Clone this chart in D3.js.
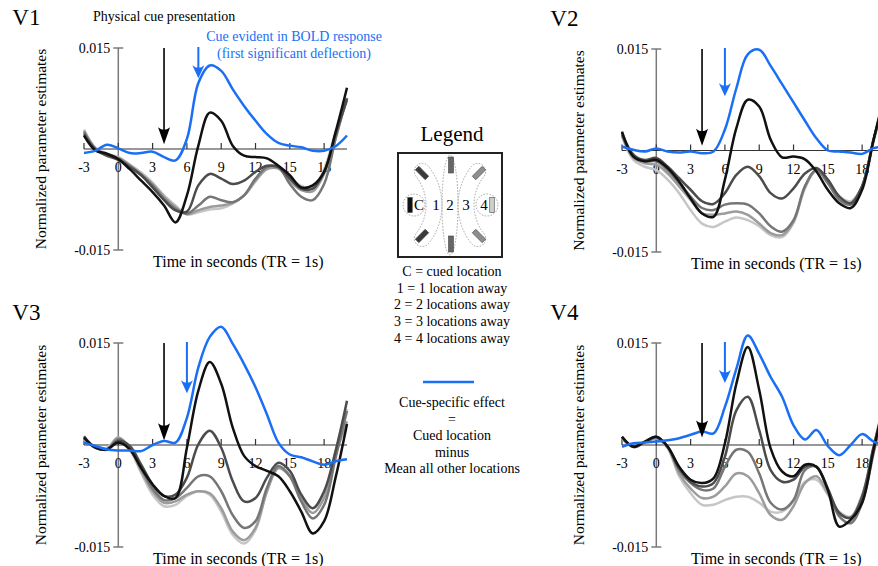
<!DOCTYPE html>
<html>
<head>
<meta charset="utf-8">
<script src="https://cdn.jsdelivr.net/npm/d3@7"></script>
<style>
  body { margin: 0; background: #fff; }
  svg { display: block; font-family: "Liberation Serif", "Times New Roman", serif; }
</style>
</head>
<body>
<svg id="chart" width="878" height="566"></svg>
<script>
// time in seconds (TR = 1s)
const times = [-3, -2, -1, 0, 1, 2, 3, 4, 5, 6, 7, 8, 9, 10, 11, 12, 13, 14, 15, 16, 17, 18, 19, 20];
const xTicks = [-3, 0, 3, 6, 9, 12, 15, 18];
const yTicks = [-15, 15];           // in units of 0.001
const tickLabelsY = ["-0.015", "0.015"];

// values are normalized parameter estimates x 1e-3
// V1
const v1Cue = [-0.6, -0.25, 0.64, 0.1, -0.6, -0.6, -0.4, -1.2, -1.7, 1.5, 9.8, 12.4, 11.6, 8.9, 6.4, 4.2, 2.2, 0.9, 0.5, 0.25, -0.25, -0.25, 0.4, 2.0];
const v1C   = [2.0, -0.2, -0.7, -1.5, -3.0, -4.7, -6.4, -8.4, -10.9, -6.9, 0.5, 5.4, 4.2, 0.5, -1.0, -1.2, -1.4, -2.5, -3.9, -5.7, -5.4, -3.4, 2.5, 9.1];
const v1L1  = [2.2, -0.1, -1.0, -1.6, -2.7, -3.9, -5.7, -7.6, -9.1, -9.3, -5.4, -3.7, -4.4, -5.2, -4.7, -3.4, -2.5, -2.7, -4.4, -5.9, -5.9, -3.4, 2.2, 7.4];
const v1L2  = [2.5, 0.0, -0.9, -1.4, -2.5, -3.8, -5.4, -7.4, -8.9, -9.6, -8.4, -7.1, -7.6, -7.9, -6.9, -4.4, -2.7, -2.7, -5.2, -7.1, -7.6, -5.2, 1.5, 7.6];
const v1L3  = [2.7, 0.1, -0.8, -1.3, -2.4, -3.7, -5.2, -7.1, -8.6, -9.7, -9.1, -8.6, -8.4, -8.0, -6.9, -4.7, -3.0, -2.9, -4.7, -6.1, -6.3, -3.7, 2.0, 7.4];
const v1L4  = [2.9, 0.2, -0.7, -1.2, -2.3, -3.5, -5.0, -6.9, -8.4, -9.7, -9.4, -9.0, -8.8, -8.1, -6.9, -4.8, -2.9, -2.7, -4.2, -5.5, -5.7, -3.0, 2.5, 7.1];
// V2
const v2Cue = [0.6, 0.1, -0.15, 0.3, -0.15, -0.3, -0.15, -0.4, -0.15, 3.1, 9.2, 14.2, 14.9, 12.5, 9.8, 7.1, 4.4, 1.8, 0.0, -0.15, -0.3, -0.5, 0.35, 0.6];
const v2C   = [2.8, -0.9, -1.6, -1.4, -2.6, -4.6, -7.1, -9.3, -9.8, -4.3, 3.3, 7.5, 6.5, 1.6, -1.0, -0.9, -1.3, -3.1, -5.8, -7.8, -8.5, -5.8, 1.6, 8.5];
const v2L1  = [2.6, -0.6, -1.4, -1.1, -2.4, -4.1, -5.8, -7.5, -7.9, -6.3, -3.6, -2.4, -3.8, -6.3, -7.1, -5.6, -3.4, -2.6, -4.3, -6.8, -7.8, -5.3, 1.6, 8.0];
const v2L2  = [2.3, -0.9, -1.6, -1.6, -2.9, -4.8, -6.8, -8.5, -8.8, -8.0, -7.8, -8.0, -9.3, -11.2, -12.0, -10.3, -5.3, -2.9, -4.8, -7.3, -8.0, -5.3, 1.6, 8.0];
const v2L3  = [2.3, -1.1, -1.9, -2.1, -3.4, -5.3, -7.3, -9.3, -9.5, -9.3, -9.0, -9.5, -10.8, -12.2, -12.5, -10.5, -5.3, -2.9, -4.8, -7.1, -7.8, -5.3, 1.6, 8.0];
const v2L4  = [2.1, -1.4, -2.4, -2.9, -4.3, -6.3, -8.8, -10.8, -11.3, -10.5, -9.9, -10.3, -11.2, -12.5, -12.8, -10.7, -5.6, -3.0, -4.6, -6.8, -7.5, -5.3, 1.3, 7.7];
// V3
const v3Cue = [0.35, -0.15, -0.65, -0.8, -0.8, -0.9, 0.0, 0.6, 0.35, 4.0, 11.4, 15.9, 17.4, 14.9, 11.9, 8.5, 4.5, 0.35, -1.4, -1.8, -2.4, -2.9, -2.4, -2.1];
const v3C   = [1.1, -0.4, -0.65, 0.35, -0.65, -3.4, -5.8, -7.5, -7.8, -0.4, 8.0, 12.2, 9.0, 2.6, -1.6, -3.1, -3.8, -4.6, -6.8, -9.8, -13.0, -11.2, -4.8, 3.1];
const v3L1  = [1.3, -0.4, -0.65, 0.6, -0.15, -2.9, -5.8, -7.5, -7.3, -4.8, 0.1, 2.1, -0.4, -5.3, -8.3, -7.8, -4.8, -2.6, -3.8, -7.3, -9.3, -6.8, -0.9, 6.5];
const v3L2  = [1.0, -0.3, -0.7, 0.85, -0.4, -3.4, -6.4, -8.1, -7.8, -6.3, -4.6, -4.6, -6.8, -10.3, -12.2, -11.2, -6.3, -3.1, -4.6, -8.3, -10.8, -8.8, -1.9, 5.0];
const v3L3  = [0.9, -0.4, -0.6, 1.1, -0.4, -3.8, -6.8, -8.5, -8.3, -7.3, -6.8, -7.1, -9.3, -12.7, -14.0, -12.2, -6.8, -3.4, -4.6, -7.8, -10.0, -7.8, -1.4, 3.5];
const v3L4  = [0.8, -0.4, -0.4, 1.1, -0.65, -4.1, -7.3, -9.0, -8.8, -7.5, -6.8, -7.3, -9.8, -13.2, -14.5, -12.5, -6.8, -3.4, -4.4, -7.3, -9.3, -7.3, -0.9, 5.3];
// V4
const v4Cue = [-0.25, 0.25, 0.35, 0.5, 0.7, 1.0, 1.5, 2.0, 1.7, 5.6, 11.2, 16.1, 13.4, 10.0, 7.1, 2.9, 0.8, 2.2, -0.15, -1.5, 0.0, 1.6, 0.5, 0.0];
const v4C   = [1.2, -0.25, 0.5, 1.2, -0.25, -3.2, -5.1, -5.6, -4.9, 0.25, 9.0, 14.4, 8.1, -0.5, -3.9, -4.6, -2.9, -3.2, -6.6, -12.0, -11.0, -8.5, -0.7, 6.6];
const v4L1  = [1.2, -0.25, 0.5, 1.2, -0.25, -3.4, -5.4, -6.1, -5.6, -1.7, 5.1, 7.1, 2.2, -3.7, -5.4, -5.1, -3.2, -3.2, -6.4, -10.0, -10.7, -7.6, -0.25, 6.6];
const v4L2  = [1.1, -0.3, 0.4, 1.1, -0.3, -3.7, -5.6, -6.6, -6.4, -3.2, -0.7, -1.0, -4.2, -8.5, -9.5, -8.1, -3.7, -3.2, -6.6, -10.5, -11.5, -8.5, -1.2, 6.1];
const v4L3  = [1.0, -0.3, 0.4, 1.0, -0.4, -4.2, -6.4, -7.8, -7.6, -6.1, -4.2, -4.6, -7.1, -10.3, -11.0, -9.0, -5.6, -4.6, -7.1, -10.0, -10.7, -7.6, -0.5, 6.6];
const v4L4  = [1.0, -0.3, 0.4, 1.0, -0.5, -4.6, -7.1, -8.8, -8.8, -8.1, -7.6, -7.6, -8.5, -9.8, -9.8, -8.3, -5.4, -5.1, -7.3, -9.8, -10.5, -7.3, -0.25, 7.1];

// arrows: physical cue onset and first significant deflection (s), arrow tips (x 1e-3)
const panelNames  = ["V1", "V2", "V3", "V4"];
const cueTimes    = [4, 4, 4, 4];
const cueTips     = [0.7, 0.7, 0.7, 1.1];
const onsetTimes  = [7, 6, 6, 6];
const onsetTips   = [10.5, 8.0, 7.6, 9.1];

const seriesData = [
  [v1L4, v1L3, v1L2, v1L1, v1C, v1Cue],
  [v2L4, v2L3, v2L2, v2L1, v2C, v2Cue],
  [v3L4, v3L3, v3L2, v3L1, v3C, v3Cue],
  [v4L4, v4L3, v4L2, v4L1, v4C, v4Cue]
];
const seriesColors = ["#c6c6c6", "#9c9c9c", "#767676", "#4c4c4c", "#111111", "#1a6ff5"];
const blue = "#1a6ff5";

// panel frames in pixels
const frames = [
  { x0: 84,  x1: 347, yTop: 48,  yBot: 250 },
  { x0: 622, x1: 885, yTop: 49,  yBot: 252 },
  { x0: 84,  x1: 347, yTop: 343, yBot: 547 },
  { x0: 622, x1: 885, yTop: 343, yBot: 547 }
];

const svg = d3.select("#chart");

function arrow(g, x, yFrom, yTo, color, width, headLen) {
  g.append("line")
    .attr("x1", x).attr("x2", x)
    .attr("y1", yFrom).attr("y2", yTo - headLen + 3)
    .attr("stroke", color).attr("stroke-width", width);
  g.append("path")
    .attr("d", `M${x},${yTo} L${x - 6},${yTo - headLen} Q${x},${yTo - headLen + 5} ${x + 6},${yTo - headLen} Z`)
    .attr("fill", color);
}

panelNames.forEach((name, i) => {
  const f = frames[i];
  const x = d3.scaleLinear().domain([-3, 20]).range([f.x0, f.x1]);
  const y = d3.scaleLinear().domain([-15, 15]).range([f.yBot, f.yTop]);
  const g = svg.append("g");
  const ax = x(0), ay = y(0);

  // panel label
  g.append("text").attr("x", ax - 106).attr("y", y(15) - 23)
    .style("font-size", "23px").text(name);

  // y axis
  g.append("line").attr("x1", ax).attr("x2", ax).attr("y1", y(15)).attr("y2", y(-15))
    .attr("stroke", "#7a7a7a").attr("stroke-width", 1.5);
  yTicks.forEach((t, k) => {
    g.append("line").attr("x1", ax - 5).attr("x2", ax + 5).attr("y1", y(t)).attr("y2", y(t))
      .attr("stroke", "#7a7a7a").attr("stroke-width", 1.5);
    g.append("text").attr("x", ax - 8).attr("y", y(t) + 5)
      .attr("text-anchor", "end").style("font-size", "14px").text(tickLabelsY[k]);
  });
  g.append("text")
    .attr("transform", `translate(${ax - 72},${(y(15) + y(-15)) / 2}) rotate(-90)`)
    .attr("text-anchor", "middle").style("font-size", "15.5px")
    .text("Normalized parameter estimates");

  // x axis
  g.append("line").attr("x1", x(-3)).attr("x2", x(20)).attr("y1", ay).attr("y2", ay)
    .attr("stroke", "#333").attr("stroke-width", 1.2);
  xTicks.forEach(t => {
    g.append("line").attr("x1", x(t)).attr("x2", x(t)).attr("y1", ay - 6).attr("y2", ay)
      .attr("stroke", "#333").attr("stroke-width", 1.2);
    g.append("text").attr("x", x(t)).attr("y", ay + 23)
      .attr("text-anchor", "middle").style("font-size", "14px").text(t);
  });
  g.append("text").attr("x", x(0) + 120).attr("y", y(-15) + 17)
    .attr("text-anchor", "middle").style("font-size", "16px")
    .text("Time in seconds (TR = 1s)");

  // curves
  const line = d3.line()
    .x((d, k) => x(times[k]))
    .y(d => y(d))
    .curve(d3.curveCatmullRom.alpha(0.5));
  seriesData[i].forEach((vals, s) => {
    g.append("path").datum(vals)
      .attr("d", line)
      .attr("fill", "none")
      .attr("stroke", seriesColors[s])
      .attr("stroke-width", 2.5)
      .attr("stroke-linejoin", "round");
  });

  // arrows
  arrow(g, x(cueTimes[i]), y(15), y(cueTips[i]), "#000", 1.6, 17);
  arrow(g, x(onsetTimes[i]), y(15) - 1, y(onsetTips[i]), blue, 2, 13);

  if (i === 0) {
    g.append("text").attr("x", 93).attr("y", 21).style("font-size", "14px")
      .text("Physical cue presentation");
    g.append("text").attr("x", 294).attr("y", 41).attr("text-anchor", "middle")
      .style("font-size", "14px").attr("fill", blue).text("Cue evident in BOLD response");
    g.append("text").attr("x", 294).attr("y", 58).attr("text-anchor", "middle")
      .style("font-size", "14px").attr("fill", blue).text("(first significant deflection)");
  }
});

// legend
const lg = svg.append("g");
const cx = 450, cy = 205;
lg.append("text").attr("x", 452).attr("y", 141).attr("text-anchor", "middle")
  .style("font-size", "21px").text("Legend");
lg.append("rect").attr("x", 398).attr("y", 153).attr("width", 104).attr("height", 104)
  .attr("fill", "none").attr("stroke", "#222").attr("stroke-width", 2);

const dotted = sel => sel.attr("fill", "none").attr("stroke", "#999")
  .attr("stroke-width", 0.9).attr("stroke-dasharray", "1.5,1.5");
lg.append("circle").attr("cx", 414).attr("cy", cy).attr("r", 11).call(dotted);
lg.append("circle").attr("cx", 487).attr("cy", cy).attr("r", 11).call(dotted);
lg.append("ellipse").attr("cx", cx).attr("cy", cy).attr("rx", 8).attr("ry", 50).call(dotted);
const band = d3.arc().innerRadius(46).outerRadius(62).cornerRadius(8);
lg.append("path").attr("transform", `translate(${cx - 70},${cy})`)
  .attr("d", band({ startAngle: Math.PI / 2 - 0.82, endAngle: Math.PI / 2 + 0.82 })).call(dotted);
lg.append("path").attr("transform", `translate(${cx + 70},${cy})`)
  .attr("d", band({ startAngle: 3 * Math.PI / 2 - 0.82, endAngle: 3 * Math.PI / 2 + 0.82 })).call(dotted);

const bars = [
  { x: 410, y: 205, r: 0,   fill: "#111", w: 4.5, h: 15 },
  { x: 422, y: 173, r: -45, fill: "#3a3a3a", w: 5, h: 14 },
  { x: 422, y: 236, r: 45,  fill: "#3a3a3a", w: 5, h: 14 },
  { x: 451, y: 165, r: 0,   fill: "#666", w: 5, h: 16 },
  { x: 451, y: 244, r: 0,   fill: "#666", w: 5, h: 16 },
  { x: 479, y: 173, r: 45,  fill: "#8e8e8e", w: 5, h: 14 },
  { x: 479, y: 236, r: -45, fill: "#8e8e8e", w: 5, h: 14 },
  { x: 492, y: 205, r: 0,   fill: "#cfcfcf", w: 4.5, h: 15 }
];
bars.forEach(b => {
  lg.append("rect")
    .attr("x", -b.w / 2).attr("y", -b.h / 2).attr("width", b.w).attr("height", b.h)
    .attr("transform", `translate(${b.x},${b.y}) rotate(${b.r})`)
    .attr("fill", b.fill).attr("stroke", "#444").attr("stroke-width", 0.6);
});
[["C", 419], ["1", 436], ["2", 450], ["3", 466], ["4", 484]].forEach(([t, px]) => {
  lg.append("text").attr("x", px).attr("y", 210).attr("text-anchor", "middle")
    .style("font-size", "15px").text(t);
});

const legendLines = ["C = cued location", "1 = 1 location away", "2 = 2 locations away",
  "3 = 3 locations away", "4 = 4 locations away"];
legendLines.forEach((t, k) => {
  lg.append("text").attr("x", 452).attr("y", 276 + k * 16.7).attr("text-anchor", "middle")
    .style("font-size", "14px").text(t);
});
lg.append("line").attr("x1", 423).attr("x2", 474).attr("y1", 382).attr("y2", 382)
  .attr("stroke", blue).attr("stroke-width", 2.5);
const cueLines = ["Cue-specific effect", "=", "Cued location", "minus", "Mean all other locations"];
cueLines.forEach((t, k) => {
  lg.append("text").attr("x", 452).attr("y", 407 + k * 16.6).attr("text-anchor", "middle")
    .style("font-size", "14px").text(t);
});
</script>
</body>
</html>
